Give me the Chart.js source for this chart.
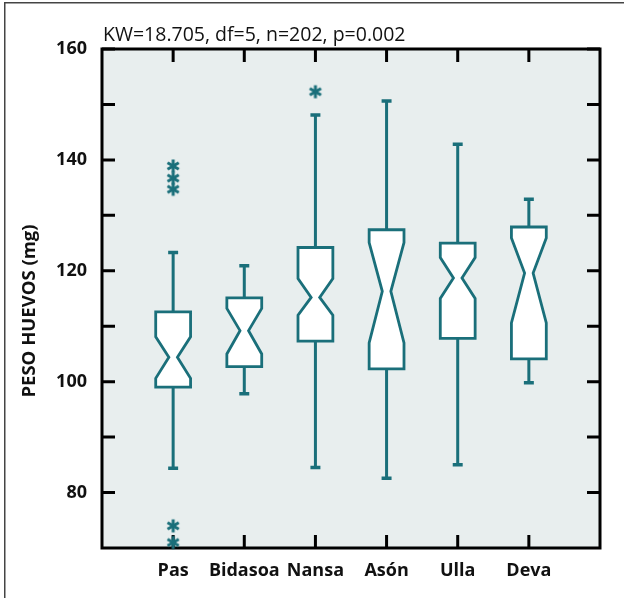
<!DOCTYPE html>
<html>
<head>
<meta charset="utf-8">
<script src="https://cdn.jsdelivr.net/npm/chart.js@4"></script>
<style>
  html, body { margin: 0; padding: 0; background: #fff; }
  #wrap { width: 624px; height: 598px; }
</style>
</head>
<body>
<div id="wrap"><canvas id="myChart" width="624" height="598"></canvas></div>
<script>
const categories = ['Pas', 'Bidasoa', 'Nansa', 'Asón', 'Ulla', 'Deva'];
const whiskerLow  = [84.4, 97.8, 84.5, 82.6, 85.0, 99.8];
const q1          = [99.0, 102.7, 107.3, 102.3, 107.8, 104.1];
const notchLow    = [100.6, 105.0, 112.0, 107.0, 115.0, 110.6];
const median      = [104.4, 109.2, 115.2, 116.3, 118.7, 119.6];
const notchHigh   = [108.1, 113.2, 118.6, 125.1, 122.4, 125.9];
const q3          = [112.6, 115.1, 124.2, 127.4, 125.0, 127.9];
const whiskerHigh = [123.3, 120.9, 148.1, 150.6, 142.8, 132.9];
// outliers: category index (1-based) and value
const outlierCat   = [1, 1, 1, 1, 1, 3];
const outlierValue = [138.9, 136.7, 134.7, 74.0, 71.0, 152.3];
const yTicks = [80, 100, 120, 140, 160];
const yMinorTicks = [90, 110, 130, 150];
const titleText = 'KW=18.705, df=5, n=202, p=0.002';
const yTitle = 'PESO HUEVOS (mg)';

const teal = '#1a6f7a';
const plotBg = '#e8eeee';

// asterisk marker for the outliers
function asterisk() {
  const c = document.createElement('canvas');
  c.width = 16; c.height = 16;
  const g = c.getContext('2d');
  g.strokeStyle = teal;
  g.lineWidth = 3;
  g.translate(8, 8);
  for (let a = 0; a < 3; a++) {
    g.beginPath();
    g.moveTo(0, -6.5);
    g.lineTo(0, 6.5);
    g.stroke();
    g.rotate(Math.PI / 3);
  }
  return c;
}

const boxPlugin = {
  id: 'boxes',
  beforeDraw(chart) {
    const ctx = chart.ctx, a = chart.chartArea;
    ctx.save();
    ctx.fillStyle = '#fff';
    ctx.fillRect(0, 0, chart.width, chart.height);
    // outer frame
    ctx.strokeStyle = '#444';
    ctx.lineWidth = 1.5;
    ctx.beginPath();
    ctx.moveTo(4.75, chart.height);
    ctx.lineTo(4.75, 2.75);
    ctx.lineTo(chart.width, 2.75);
    ctx.stroke();
    ctx.fillStyle = plotBg;
    ctx.fillRect(a.left, a.top, a.right - a.left, a.bottom - a.top);
    // title and axis title
    ctx.fillStyle = '#111';
    ctx.font = '19.5px "Open Sans"';
    ctx.textBaseline = 'alphabetic';
    ctx.textAlign = 'left';
    ctx.fillText(titleText, 103, 41);
    ctx.font = 'bold 18.5px "Open Sans"';
    ctx.translate(30, 311);
    ctx.rotate(-Math.PI / 2);
    ctx.textAlign = 'center';
    ctx.textBaseline = 'middle';
    ctx.fillText(yTitle, 0, 0);
    ctx.restore();
  },
  beforeDatasetsDraw(chart) {
    const ctx = chart.ctx, x = chart.scales.x, y = chart.scales.y;
    const unit = x.getPixelForValue(1) - x.getPixelForValue(0);
    const hw = unit * 0.245, nw = unit * 0.06, cw = unit * 0.07;
    ctx.save();
    categories.forEach((c, i) => {
      const cx = x.getPixelForValue(i + 1);
      const py = v => y.getPixelForValue(v);
      // whiskers
      ctx.strokeStyle = teal;
      ctx.lineWidth = 3;
      ctx.beginPath();
      ctx.moveTo(cx, py(q3[i])); ctx.lineTo(cx, py(whiskerHigh[i]));
      ctx.moveTo(cx, py(q1[i])); ctx.lineTo(cx, py(whiskerLow[i]));
      ctx.stroke();
      ctx.lineWidth = 3.5;
      ctx.beginPath();
      ctx.moveTo(cx - cw, py(whiskerHigh[i])); ctx.lineTo(cx + cw, py(whiskerHigh[i]));
      ctx.moveTo(cx - cw, py(whiskerLow[i])); ctx.lineTo(cx + cw, py(whiskerLow[i]));
      ctx.stroke();
      // notched box
      ctx.beginPath();
      ctx.moveTo(cx - hw, py(q3[i]));
      ctx.lineTo(cx + hw, py(q3[i]));
      ctx.lineTo(cx + hw, py(notchHigh[i]));
      ctx.lineTo(cx + nw, py(median[i]));
      ctx.lineTo(cx + hw, py(notchLow[i]));
      ctx.lineTo(cx + hw, py(q1[i]));
      ctx.lineTo(cx - hw, py(q1[i]));
      ctx.lineTo(cx - hw, py(notchLow[i]));
      ctx.lineTo(cx - nw, py(median[i]));
      ctx.lineTo(cx - hw, py(notchHigh[i]));
      ctx.closePath();
      ctx.fillStyle = '#fff';
      ctx.fill();
      ctx.lineWidth = 2.8;
      ctx.lineJoin = 'miter';
      ctx.stroke();
    });
    // axes frame with inward ticks
    const a = chart.chartArea;
    ctx.strokeStyle = '#000';
    ctx.lineWidth = 3;
    ctx.beginPath();
    const tl = 13;
    yTicks.concat(yMinorTicks).forEach(v => {
      const p = y.getPixelForValue(v);
      ctx.moveTo(a.left, p); ctx.lineTo(a.left + tl, p);
      ctx.moveTo(a.right, p); ctx.lineTo(a.right - tl, p);
    });
    categories.forEach((c, i) => {
      const p = x.getPixelForValue(i + 1);
      ctx.moveTo(p, a.top); ctx.lineTo(p, a.top + tl);
      ctx.moveTo(p, a.bottom); ctx.lineTo(p, a.bottom - tl);
    });
    ctx.stroke();
    ctx.strokeRect(a.left, a.top, a.right - a.left, a.bottom - a.top);
    ctx.restore();
  }
};

const config = {
  type: 'scatter',
  data: {
    datasets: [{
      data: outlierCat.map((c, i) => ({ x: c, y: outlierValue[i] })),
      pointStyle: asterisk(),
      clip: false
    }]
  },
  options: {
    responsive: false,
    animation: false,
    layout: { padding: { top: 49, right: 24, left: 0, bottom: 0 } },
    plugins: { legend: { display: false }, tooltip: { enabled: false }, title: { display: false } },
    scales: {
      x: {
        type: 'linear', min: 0, max: 7,
        afterBuildTicks: s => { s.ticks = categories.map((c, i) => ({ value: i + 1 })); },
        afterFit: s => { s.height = 50; },
        grid: { display: false, drawTicks: false },
        border: { display: false },
        ticks: {
          autoSkip: false, maxRotation: 0, padding: 12, color: '#111',
          font: { family: 'Open Sans', weight: 'bold', size: 18 },
          callback: v => categories[v - 1]
        }
      },
      y: {
        min: 70, max: 160,
        afterBuildTicks: s => { s.ticks = yTicks.map(v => ({ value: v })); },
        afterFit: s => { s.width = 102; },
        grid: { display: false, drawTicks: false },
        border: { display: false },
        ticks: {
          autoSkip: false, padding: 15, color: '#111',
          font: { family: 'Open Sans', weight: 'bold', size: 18 }
        }
      }
    }
  },
  plugins: [boxPlugin]
};

new Chart(document.getElementById('myChart'), config);
</script>
</body>
</html>
